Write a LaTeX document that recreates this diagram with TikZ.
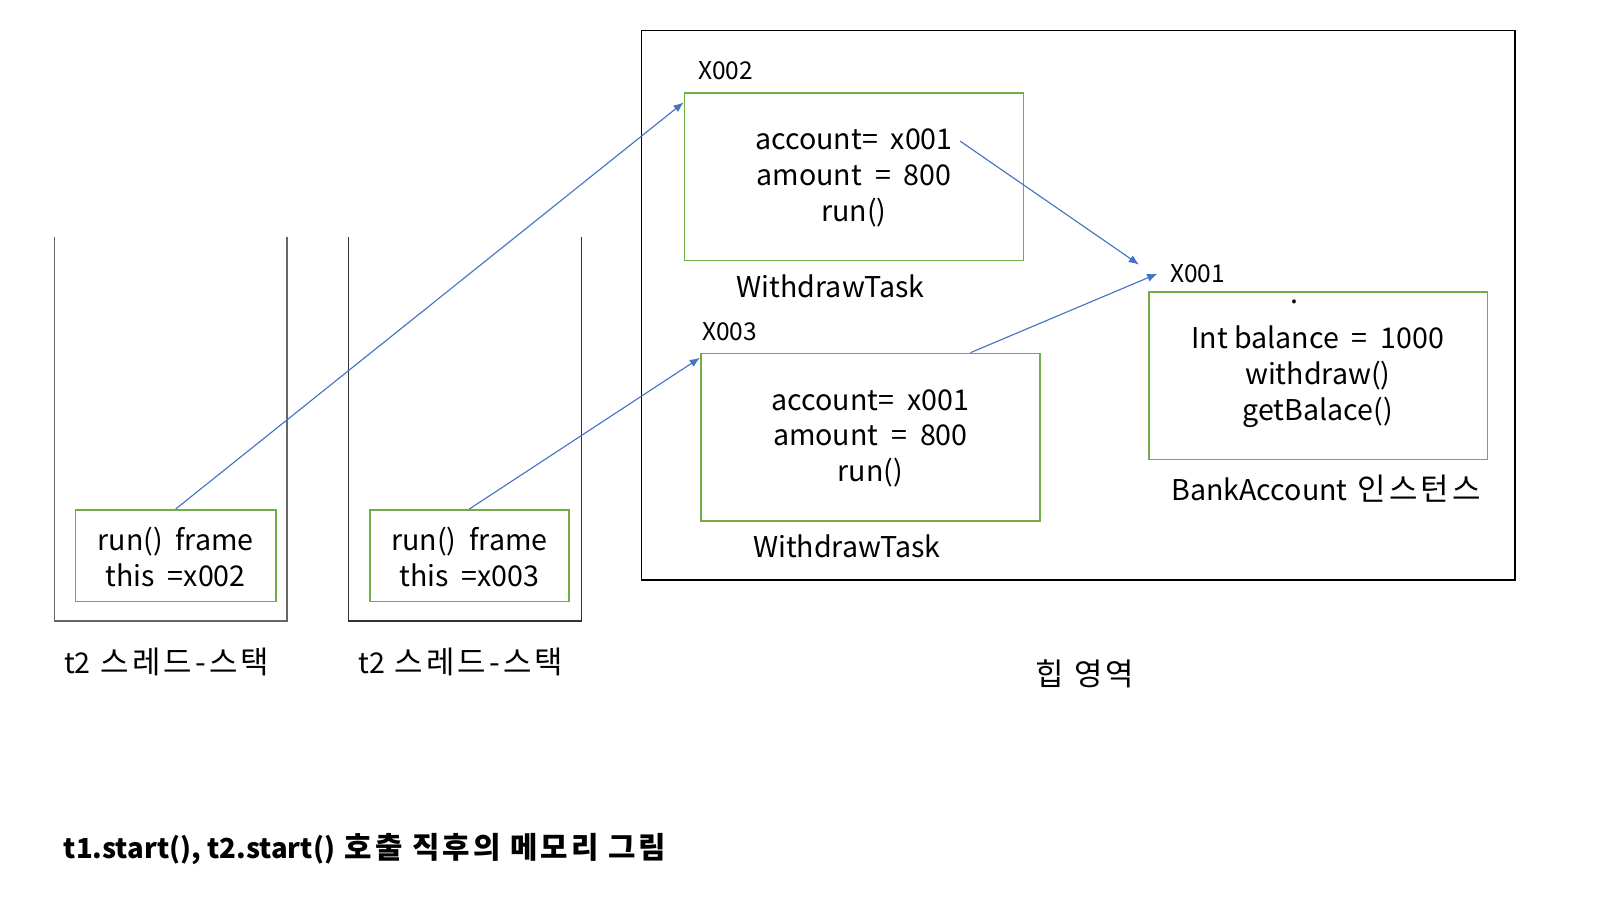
\documentclass[tikz,border=0pt]{standalone}
\usepackage{fontspec}
\setmainfont{Noto Sans CJK KR}
\newfontfamily\kr{Noto Sans CJK KR}[Scale=1.08,LetterSpace=10]
\usetikzlibrary{arrows.meta,calc}
\definecolor{grn}{HTML}{70AD47}
\definecolor{blu}{HTML}{4472C4}
\tikzset{
  gbox/.style={draw=grn,line width=0.75pt,inner sep=0pt},
  txt/.style={font=\fontsize{14pt}{17.5pt}\selectfont,align=center,inner sep=0pt},
  lbl/.style={font=\fontsize{12pt}{14pt}\selectfont,inner sep=0pt},
  ptr/.style={draw=blu,line width=0.55pt,-{Latex[length=5pt,width=4pt]}},
  stk/.style={draw=black!80,line width=0.6pt},
  heap/.style={draw=black,line width=0.8pt,inner sep=0pt},
}
\begin{document}
\begin{tikzpicture}[x=0.5pt,y=-0.5pt]
\useasboundingbox (0,0) rectangle (1566.3,881.1);
% heap area
\node[heap,minimum width=427.5pt,minimum height=269pt] (heap) at (1055.5,299) {};
% WithdrawTask x002
\node[lbl,anchor=west] (x2) at (683,69) {X002};
\node[gbox,minimum width=166pt,minimum height=82pt] (w1) at (836,173) {};
\node[txt] (w1t) at (836,174) {account=\ \ x001\\amount\ \ =\ \ 800\\run()};
\node[txt] (w1l) at (813,280) {WithdrawTask};
% WithdrawTask x003
\node[lbl,anchor=west] (x3) at (687,325) {X003};
\node[gbox,minimum width=166pt,minimum height=82pt] (w2) at (852,428) {};
\node[txt] (w2t) at (852,429) {account=\ \ x001\\amount\ \ =\ \ 800\\run()};
\node[txt] (w2l) at (829,535) {WithdrawTask};
% BankAccount
\node[lbl,anchor=west] (x1) at (1145,268) {X001};
\node[gbox,minimum width=165.5pt,minimum height=82pt] (ba) at (1290.5,368) {};
\node[txt] (dot) at (1267,296) {.};
\node[txt] (bat) at (1290,369) {Int balance\ \ =\ \ 1000\\withdraw()\\getBalace()};
\node[txt] (bal) at (1298,478) {BankAccount{\kr\ 인스턴스}};
% stacks
\draw[stk,draw=black!60] (53,232) -- (53,608) -- (281,608) -- (281,232);
\draw[stk] (341,232) -- (341,608) -- (569,608) -- (569,232);
\node[gbox,minimum width=98pt,minimum height=45pt] (f1) at (172,544) {};
\node[txt] (f1t) at (172,545) {run()\ \ frame\\this\ \ =x002};
\node[gbox,minimum width=97.5pt,minimum height=45pt] (f2) at (459.5,544) {};
\node[txt] (f2t) at (459.5,545) {run()\ \ frame\\this\ \ =x003};
\node[txt] (s1) at (163,648) {t2{\kr\ 스레드-스택}};
\node[txt] (s2) at (451,648) {t2{\kr\ 스레드-스택}};
\node[txt] (hl) at (1062,660) {\kr 힙 영역};
% title
\node[txt,font=\fontsize{13.5pt}{17pt}\selectfont\bfseries,anchor=west] (title) at (62,831) {t1.start(), t2.start(){\kr\bfseries\ 호출 직후의 메모리 그림}};
% pointers
\draw[ptr] (f1.north) -- ($(w1.north west)+(0,10)$);
\draw[ptr] (f2.north) -- ($(w2.north west)+(0,5)$);
\draw[ptr] ($(w1.north)+(104,48)$) -- ($(x1.west)+(-30,-9)$);
\draw[ptr] ($(w2.north)+(98,0)$) -- ($(x1.west)+(-12,0)$);
\end{tikzpicture}
\end{document}
